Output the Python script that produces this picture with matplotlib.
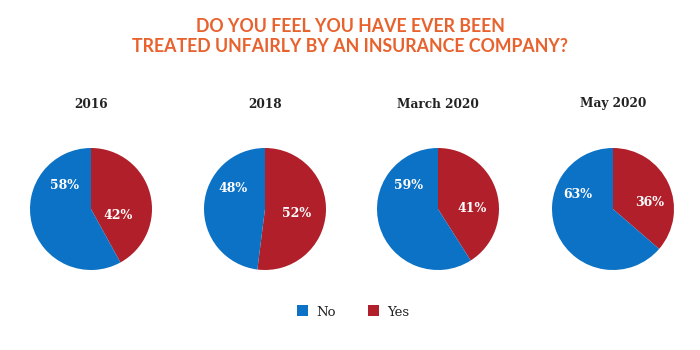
import matplotlib
matplotlib.use("Agg")
import matplotlib.pyplot as plt
from matplotlib.patches import Patch

years = ["2016", "2018", "March 2020", "May 2020"]
no_vals = [58, 48, 59, 63]
yes_vals = [42, 52, 41, 36]
series = ["No", "Yes"]

BLUE = "#0B72C5"
RED = "#B01F2A"
ORANGE = "#E8622E"

# label positions (in radius units) for No and Yes labels
no_pos = [(-0.44, 0.39), (-0.52, 0.34), (-0.48, 0.38), (-0.57, 0.23)]
yes_pos = [(0.44, -0.10), (0.52, -0.07), (0.56, 0.0), (0.60, 0.10)]

fig = plt.figure(figsize=(7, 3.5), dpi=100)
fig.patch.set_facecolor("white")

centers_x = [91, 265, 438, 613]
cy = 209
r = 61
W, H = 700, 350

for i, yr in enumerate(years):
    cx = centers_x[i]
    ax = fig.add_axes([(cx - r) / W, (H - cy - r) / H, 2 * r / W, 2 * r / H])
    ax.pie([yes_vals[i], no_vals[i]], colors=[RED, BLUE], startangle=90,
           counterclock=False, radius=1.0, wedgeprops=dict(linewidth=0))
    ax.set_xlim(-1, 1)
    ax.set_ylim(-1, 1)
    ax.set_aspect("equal")
    ax.axis("off")
    ax.text(no_pos[i][0], no_pos[i][1], f"{no_vals[i]}%", color="white",
            ha="center", va="center", fontsize=9, fontweight="bold",
            family="DejaVu Serif")
    ax.text(yes_pos[i][0], yes_pos[i][1], f"{yes_vals[i]}%", color="white",
            ha="center", va="center", fontsize=9, fontweight="bold",
            family="DejaVu Serif")
    fig.text(cx / W, 1 - 104 / H, yr, ha="center", va="center",
             fontsize=8.7, fontweight="bold", family="DejaVu Serif", color="#222222")

fig.text(0.5, 1 - 27 / H, "DO YOU FEEL YOU HAVE EVER BEEN", ha="center", va="center",
         fontsize=12.8, fontweight="bold", family="Lato", color=ORANGE)
fig.text(0.5, 1 - 47 / H, "TREATED UNFAIRLY BY AN INSURANCE COMPANY?", ha="center", va="center",
         fontsize=12.8, fontweight="bold", family="Lato", color=ORANGE)

handles = [Patch(facecolor=BLUE, edgecolor="none"), Patch(facecolor=RED, edgecolor="none")]
leg = fig.legend(handles, series, loc="center", bbox_to_anchor=(353 / W, 1 - 312 / H),
                 ncol=2, frameon=False, handlelength=0.9, handleheight=0.9,
                 columnspacing=2.4, handletextpad=0.6,
                 prop={"family": "DejaVu Serif", "size": 9.5})
for t in leg.get_texts():
    t.set_color("#222222")

fig.savefig("out.png", dpi=100, facecolor="white")
